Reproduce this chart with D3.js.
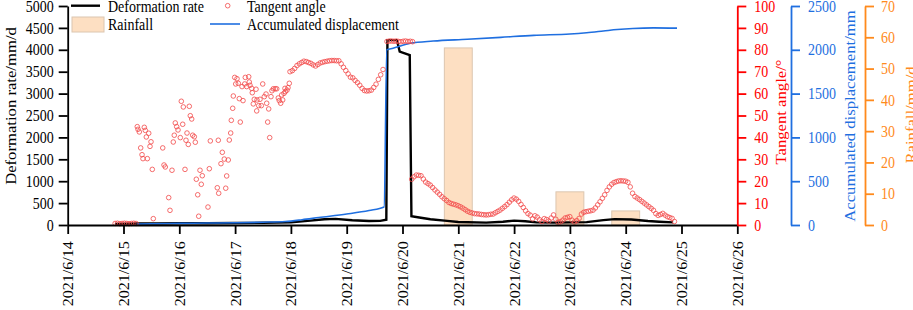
<!DOCTYPE html>
<html>
<head>
<meta charset="utf-8">
<script src="https://cdn.jsdelivr.net/npm/d3@7"></script>
<style>
  body { margin: 0; background: #fff; }
  svg { display: block; }
  text { font-family: "Liberation Serif", "Times New Roman", serif; }
</style>
</head>
<body>
<svg id="chart" width="913" height="310"></svg>
<script>
// x ticks: days of June 2021
const xTickDays = [14, 15, 16, 17, 18, 19, 20, 21, 22, 23, 24, 25, 26];

// deformation rate (mm/d), [day, value]
const rateData = [
  [14.85, 25], [15.25, 35], [15.6, 35], [16.0, 40], [16.5, 40], [17.0, 45], [17.5, 50],
  [18.0, 60], [18.3, 95], [18.6, 130], [18.8, 140], [19.1, 110], [19.4, 90], [19.6, 95],
  [19.71, 120], [19.73, 4220], [19.90, 4220], [19.95, 3960], [20.13, 3880], [20.16, 200],
  [20.3, 170], [20.5, 130], [20.8, 95], [21.0, 70], [21.5, 55], [21.8, 75], [22.0, 100],
  [22.2, 85], [22.4, 60], [22.7, 55], [23.0, 60], [23.3, 65], [23.6, 110], [23.8, 135],
  [24.1, 125], [24.4, 90], [24.6, 75], [24.85, 60]
];

// accumulated displacement (mm), [day, value]
const dispData = [
  [15.24, 10], [15.5, 14], [16.0, 18], [16.5, 22], [17.0, 26], [17.5, 32], [17.9, 40],
  [18.2, 60], [18.5, 85], [19.0, 125], [19.4, 165], [19.67, 205], [19.72, 2000],
  [19.83, 2017], [20.14, 2074], [20.55, 2100], [21.16, 2120], [21.76, 2142], [22.35, 2165],
  [23.0, 2180], [23.3, 2195], [23.6, 2215], [23.85, 2232], [24.13, 2244], [24.5, 2250],
  [24.92, 2247]
];

// rainfall (mm/d)
const rainDays = [21, 23, 24];
const rainValues = [56.6, 10.6, 4.5];

// tangent angle (deg): scattered early readings, [day, value]
const angleScatter = [
  [15.247, 44.9], [15.260, 43.7], [15.283, 42.5], [15.373, 44.6], [15.391, 43.2], [15.452, 41.9],
  [15.409, 40.2], [15.493, 38.0], [15.308, 35.2], [15.475, 35.9], [15.332, 32.1], [15.349, 30.3],
  [15.427, 30.3], [15.516, 25.4], [15.703, 35.2], [15.726, 27.4], [15.749, 26.5], [15.869, 25.0],
  [15.534, 2.9], [15.810, 12.5], [15.833, 6.7], [16.036, 56.5], [16.072, 53.9], [16.179, 54.2],
  [16.197, 49.9], [16.222, 48.4], [15.928, 46.6], [15.953, 44.9], [15.977, 43.4], [16.061, 46.0],
  [15.910, 41.0], [15.892, 37.9], [16.018, 39.9], [16.138, 42.0], [16.120, 38.7], [16.161, 36.8],
  [16.240, 41.0], [16.269, 40.3], [16.287, 37.8], [16.102, 25.4], [16.371, 25.0], [16.412, 22.5],
  [16.305, 20.9], [16.394, 18.6], [16.330, 13.8], [16.514, 8.2], [16.348, 4.0], [16.538, 25.7],
  [16.556, 38.4], [16.699, 38.7], [16.681, 17.0], [16.706, 14.5], [16.832, 16.8], [16.849, 22.4],
  [16.747, 28.0], [16.771, 33.2], [16.806, 30.1], [16.878, 29.7], [16.896, 38.8], [16.921, 42.0],
  [16.932, 47.8], [16.957, 53.3], [16.968, 58.9], [17.093, 47.0], [17.075, 57.7], [17.142, 56.8],
  [16.993, 67.4], [17.034, 66.8], [17.011, 64.4], [17.057, 64.7], [17.124, 63.2], [17.172, 64.4],
  [17.183, 67.4], [17.244, 67.7], [17.254, 65.3], [17.267, 63.8], [17.208, 63.2], [17.297, 62.4],
  [17.308, 60.4], [17.375, 62.0], [17.344, 57.4], [17.326, 55.3], [17.387, 52.1], [17.392, 57.1],
  [17.423, 54.5], [17.446, 57.4], [17.470, 54.5], [17.495, 64.4], [17.523, 58.6], [17.554, 59.8],
  [17.566, 55.6], [17.602, 53.0], [17.584, 47.0], [17.620, 39.9], [17.643, 58.6], [17.661, 61.3],
  [17.685, 62.2], [17.720, 62.2], [17.746, 62.2], [17.774, 58.0], [17.792, 56.8], [17.817, 55.6],
  [17.853, 57.1], [17.835, 59.4], [17.876, 60.1], [17.900, 60.9], [17.894, 62.4], [17.948, 62.7],
  [17.971, 64.7], [17.930, 61.6]
];

// tangent angle (deg): hourly readings, each run starts at the given day
const angleLowStart = 14.85;
const angleLow = [0.7, 0.8, 0.6, 0.7, 0.8, 0.7, 0.6, 0.7, 0.8, 0.7];
const angleRiseStart = 17.984;
const angleRise = [
  70.0, 70.5, 71.5, 72.8, 73.6, 74.2, 74.8, 74.6, 74.2, 73.8, 73.1, 72.6, 73.3, 74.0,
  74.3, 74.6, 74.8, 75.0, 75.1, 75.1, 75.0, 75.0, 73.6, 72.0, 70.5, 69.0, 67.5, 67.2,
  66.0, 65.0, 63.8, 62.4, 61.4, 61.2, 61.3, 61.6, 62.8, 64.3, 66.5, 68.6, 71.0
];
const angleTopStart = 19.722;
const angleTop = [83.8, 84.0, 84.0, 83.9, 84.0, 83.8, 83.7, 83.9, 84.0, 83.8, 83.9, 83.7];
const angleDecayStart = 20.165;
const angleDecay = [
  20.9, 22.0, 22.8, 22.7, 22.5, 21.0, 19.6, 18.9, 18.2, 17.1, 16.0, 15.0, 14.0, 12.9,
  12.0, 11.2, 10.3, 9.8, 9.5, 9.2, 8.8, 8.3, 7.7, 7.0, 6.3, 5.8, 5.5, 5.2, 5.1, 5.0,
  4.8, 4.7, 4.6, 4.7, 4.9, 5.0, 5.6, 6.2, 6.8, 7.6, 8.4, 9.3, 10.4, 11.5, 12.3, 11.8,
  10.8, 9.4, 8.0, 6.5, 5.2, 4.5, 2.8, 4.2, 3.6, 2.4, 1.6, 2.9, 2.5, 1.8, 3.2, 4.6,
  2.6, 1.3, 1.5, 2.2, 3.2, 3.5, 3.8, 2.2, 1.4, 2.0, 3.0, 5.0, 5.8, 6.1, 6.3, 6.5,
  6.8, 7.8, 9.2, 10.6, 12.2, 13.8, 15.8, 17.4, 18.6, 19.4, 19.8, 20.1, 20.2, 20.1,
  20.0, 19.5, 17.4, 14.5, 13.0, 12.3, 11.6, 10.8, 10.0, 9.2, 8.4, 7.6, 6.7, 5.2,
  4.4, 4.8, 5.3, 4.5, 3.8, 3.4, 3.0, 1.6
];

const rateTicks = d3.range(0, 5001, 500);
const angleTicks = d3.range(0, 101, 10);
const dispTicks = d3.range(0, 2501, 500);
const rainTicks = d3.range(0, 71, 10);

const RED = "#ff0000", BLUE = "#1f6fe0", ORANGE = "#ff8a1c";
const SY = 1.15; // text is a bit taller than wide in the source figure

const hourly = (start, vals) => vals.map((v, i) => [start + i / 24, v]);
const angleData = [].concat(
  hourly(angleLowStart, angleLow),
  angleScatter,
  hourly(angleRiseStart, angleRise),
  hourly(angleTopStart, angleTop),
  hourly(angleDecayStart, angleDecay)
);

const svg = d3.select("#chart");
const plotTop = 6, plotBottom = 225;

const x = d3.scaleLinear([14, 26], [67.7, 737.3]);
const yRate = d3.scaleLinear([0, 5000], [plotBottom, plotTop]);
const yAngle = d3.scaleLinear([0, 100], [plotBottom, plotTop]);
const yDisp = d3.scaleLinear([0, 2500], [plotBottom, plotTop]);
const yRain = d3.scaleLinear([0, 70], [plotBottom, plotTop]);

// rainfall bars (half a day wide)
svg.append("g")
  .selectAll("rect")
  .data(rainDays)
  .join("rect")
  .attr("x", d => x(d - 0.25))
  .attr("width", d => x(d + 0.25) - x(d - 0.25))
  .attr("y", (d, i) => yRain(rainValues[i]))
  .attr("height", (d, i) => yRain(0) - yRain(rainValues[i]))
  .attr("fill", "#fddfc2")
  .attr("stroke", "#dcc6b0")
  .attr("stroke-width", 1);

svg.append("path")
  .datum(rateData)
  .attr("fill", "none")
  .attr("stroke", "#000")
  .attr("stroke-width", 2.4)
  .attr("d", d3.line(d => x(d[0]), d => yRate(d[1])));

svg.append("path")
  .datum(dispData)
  .attr("fill", "none")
  .attr("stroke", BLUE)
  .attr("stroke-width", 1.6)
  .attr("d", d3.line(d => x(d[0]), d => yDisp(d[1])).curve(d3.curveMonotoneX));

svg.append("g")
  .selectAll("circle")
  .data(angleData)
  .join("circle")
  .attr("cx", d => x(d[0]))
  .attr("cy", d => yAngle(d[1]))
  .attr("r", 2.3)
  .attr("fill", "none")
  .attr("stroke", "#f24a4a")
  .attr("stroke-opacity", 0.8)
  .attr("stroke-width", 1);

// axes
const fmt = d3.format("d");
function styleAxis(g, color) {
  g.selectAll("path,line").attr("stroke", color).attr("stroke-width", 1.8);
  g.selectAll("text")
    .attr("fill", color)
    .attr("font-size", 14)
    .attr("font-family", "Liberation Serif, Times New Roman, serif");
}

const xAxis = svg.append("g")
  .attr("transform", `translate(0,${plotBottom})`)
  .call(d3.axisBottom(x).tickValues(xTickDays).tickSize(9).tickSizeOuter(0)
    .tickFormat(d => `2021/6/${d}`));
styleAxis(xAxis, "#000");
xAxis.selectAll("text")
  .attr("x", -14)
  .attr("y", 0)
  .attr("dy", "0.35em")
  .attr("text-anchor", "end")
  .attr("transform", `scale(1,${SY}) rotate(-90)`);

const leftAxis = svg.append("g")
  .attr("transform", "translate(67.7,0)")
  .call(d3.axisLeft(yRate).tickValues(rateTicks).tickFormat(fmt)
    .tickSize(9).tickPadding(5).tickSizeOuter(0));
styleAxis(leftAxis, "#000");

const rightAxes = [
  [737.3, yAngle, angleTicks, RED, 8],
  [791, yDisp, dispTicks, BLUE, 8],
  [865, yRain, rainTicks, ORANGE, 7]
];
rightAxes.forEach(([pos, scale, ticks, color, pad]) => {
  const g = svg.append("g")
    .attr("transform", `translate(${pos},0)`)
    .call(d3.axisRight(scale).tickValues(ticks).tickFormat(fmt)
      .tickSize(9).tickPadding(pad).tickSizeOuter(0));
  styleAxis(g, color);
});

svg.selectAll(".tick text").filter(function () { return !this.getAttribute("transform"); })
  .attr("transform", `scale(1,${SY})`);

// axis titles
const titles = [
  ["Deformation rate/mm/d", 15.5, 106, "#000"],
  ["Tangent angle/°", 786, 112, RED],
  ["Accumulated displacement/mm", 855, 116, BLUE],
  ["Rainfall/mm/d", 916, 115, ORANGE]
];
svg.append("g")
  .selectAll("text")
  .data(titles)
  .join("text")
  .attr("transform", d => `translate(${d[1]},${d[2]}) scale(1,${SY}) rotate(-90)`)
  .attr("text-anchor", "middle")
  .attr("font-size", 14.5)
  .attr("fill", d => d[3])
  .text(d => d[0]);

// legend
const legend = svg.append("g");
legend.append("line").attr("x1", 71).attr("x2", 100).attr("y1", 5.7).attr("y2", 5.7)
  .attr("stroke", "#000").attr("stroke-width", 2.4);
legend.append("circle").attr("cx", 227.7).attr("cy", 5.7).attr("r", 2.3)
  .attr("fill", "none").attr("stroke", "#f24a4a").attr("stroke-opacity", 0.8);
legend.append("rect").attr("x", 72).attr("y", 17).attr("width", 32).attr("height", 15)
  .attr("fill", "#fddfc2").attr("stroke", "#dcc6b0");
legend.append("line").attr("x1", 210).attr("x2", 240).attr("y1", 24).attr("y2", 24)
  .attr("stroke", BLUE).attr("stroke-width", 1.6);
const legendText = [
  ["Deformation rate", 108, 11.5],
  ["Tangent angle", 247, 11.5],
  ["Rainfall", 108, 29.5],
  ["Accumulated displacement", 247, 29.5]
];
legend.selectAll("text")
  .data(legendText)
  .join("text")
  .attr("transform", d => `translate(${d[1]},${d[2]}) scale(1,${SY})`)
  .attr("font-size", 14)
  .attr("fill", "#000")
  .text(d => d[0]);
</script>
</body>
</html>
